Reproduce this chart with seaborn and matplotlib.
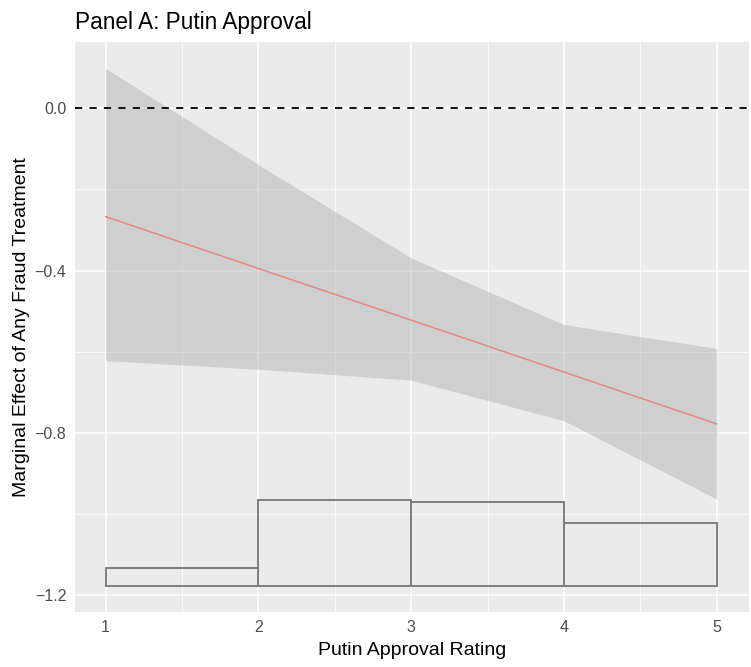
import matplotlib
matplotlib.use("Agg")
import matplotlib.pyplot as plt
import seaborn as sns
import numpy as np
import pandas as pd

# ---- data ----
approval = [1, 2, 3, 4, 5]
effect = [-0.267, -0.395, -0.522, -0.650, -0.778]
ci_upper = [0.098, -0.139, -0.369, -0.533, -0.592]
ci_lower = [-0.622, -0.643, -0.670, -0.770, -0.963]

hist_left = [1, 2, 3, 4]
hist_top = [-1.133, -0.964, -0.970, -1.022]
hist_base = -1.177

y_ticks = [0.0, -0.4, -0.8, -1.2]
y_tick_labels = ['0.0', '\u22120.4', '\u22120.8', '\u22121.2']
x_ticks = [1, 2, 3, 4, 5]

sns.set_theme(style="darkgrid")
plt.rcParams['font.family'] = ['Liberation Sans', 'DejaVu Sans']

fig = plt.figure(figsize=(7.51, 6.67), dpi=100)
ax = fig.add_axes([75/751, 1-612/667, (749-75)/751, (612-42)/667])
ax.set_facecolor('#EBEBEB')

df = pd.DataFrame({'approval': approval, 'effect': effect,
                   'lo': ci_lower, 'hi': ci_upper})

# grid
ax.set_axisbelow(True)
ax.set_xticks(x_ticks)
ax.set_yticks(y_ticks)
ax.set_xticks([1.5, 2.5, 3.5, 4.5], minor=True)
ax.set_yticks([-0.2, -0.6, -1.0], minor=True)
ax.grid(which='major', color='white', linewidth=1.1)
ax.grid(which='minor', color='white', linewidth=0.55)

# histogram bars
heights = [t - hist_base for t in hist_top]
ax.bar(hist_left, heights, width=1, bottom=hist_base, align='edge',
       facecolor='none', edgecolor='#7F7F7F', linewidth=1.4, zorder=2)

# ribbon
ax.fill_between(df['approval'], df['lo'], df['hi'], color='#999999',
                alpha=0.34, linewidth=0, zorder=3)

# line
sns.lineplot(data=df, x='approval', y='effect', ax=ax, color='#E5887E',
             linewidth=1.1, zorder=4)

# zero reference
ax.axhline(0, color='black', linewidth=1.3, linestyle=(0, (4, 4)), zorder=5)

ax.set_xlim(0.8, 5.21)
ax.set_ylim(-1.241, 0.163)
ax.set_xticklabels([str(v) for v in x_ticks])
ax.set_yticklabels(y_tick_labels)

for s in ax.spines.values():
    s.set_visible(False)
ax.tick_params(axis='both', which='major', length=2.75, width=1.0,
               color='#333333', labelsize=11.5, labelcolor='#4D4D4D')
ax.tick_params(axis='x', which='major', pad=2.7)
ax.tick_params(axis='y', which='major', pad=3.5)
ax.tick_params(axis='both', which='minor', length=0)

ax.set_xlabel('Putin Approval Rating', fontsize=14, color='black', labelpad=5.5)
ax.set_ylabel('Marginal Effect of Any Fraud Treatment', fontsize=14,
              color='black', labelpad=3.5)
ax.set_title('Panel A: Putin Approval', fontsize=16.3, loc='left',
             color='black', pad=9)

fig.savefig('out.png', dpi=100)
